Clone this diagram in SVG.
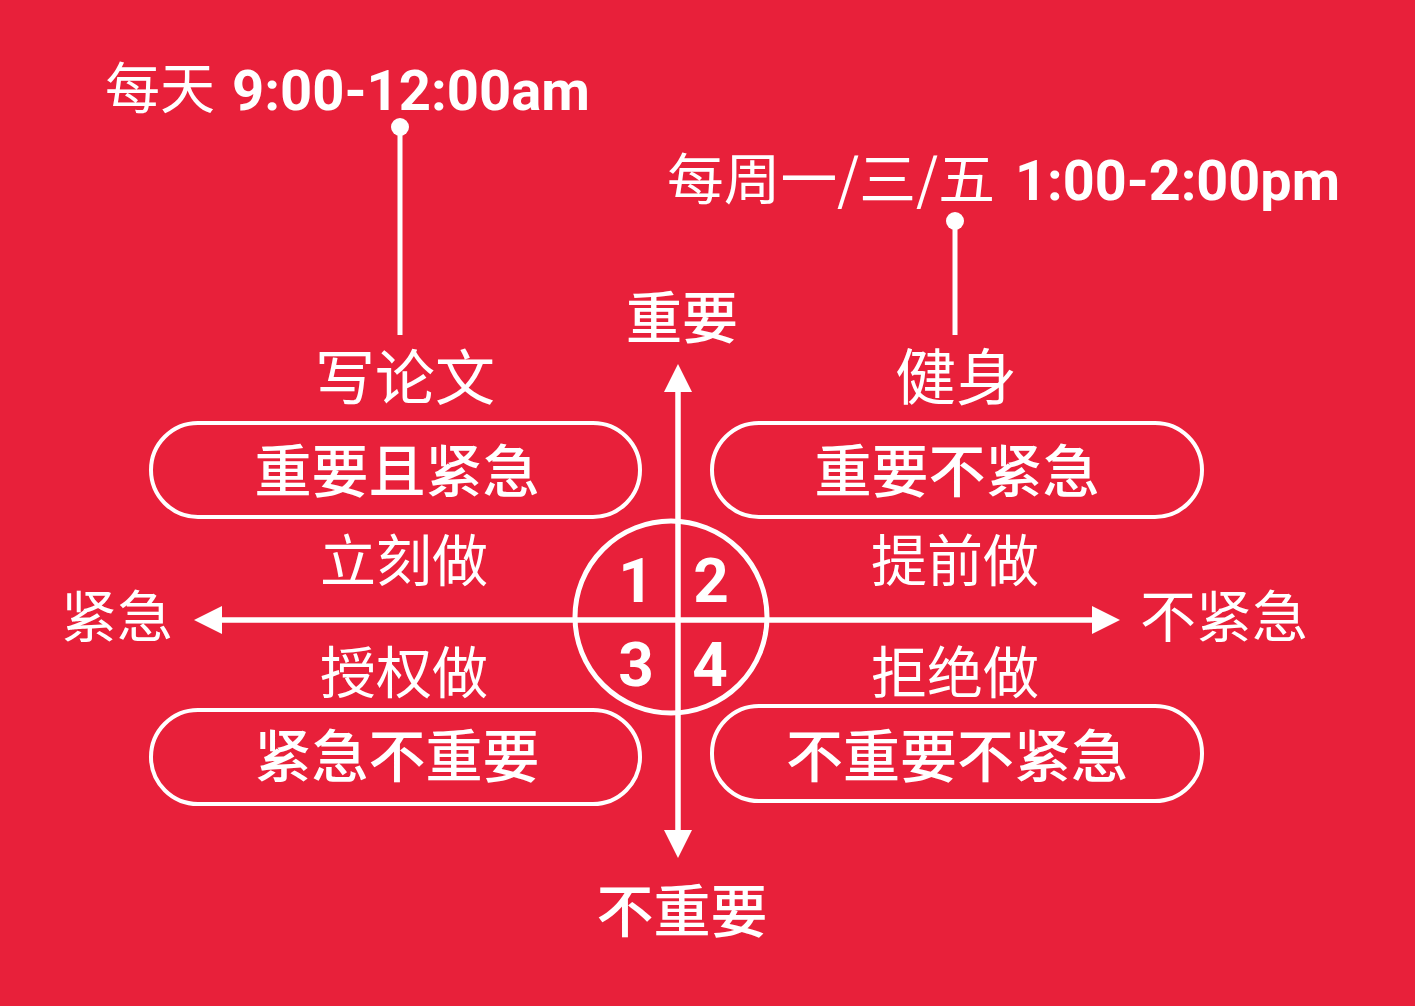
<svg xmlns="http://www.w3.org/2000/svg" width="1415" height="1006" viewBox="0 0 1415 1006">
<defs>
<style>
.cjk{font-family:"Noto Sans CJK SC","Noto Sans",sans-serif;fill:#fff;text-anchor:middle}
.lab{font-weight:400}
.pill-t{font-size:57px;font-weight:500}
.axis{font-size:56px;font-weight:400}
.num{font-family:Roboto,"DejaVu Sans",sans-serif;font-weight:700;fill:#fff}
.pill{fill:none;stroke:#fff;stroke-width:4}
.ln{stroke:#fff;stroke-width:5;fill:none}
</style>
<marker id="ah" viewBox="0 0 10 10" refX="0" refY="5" markerWidth="5.6" markerHeight="5.6" orient="auto" markerUnits="strokeWidth">
<path d="M0,0 L10,5 L0,10 Z" fill="#fff"/>
</marker>
</defs>
<rect width="1415" height="1006" fill="#e8203a"/>

<g id="connectors">
<line class="ln" x1="678" y1="840" x2="678" y2="392" marker-end="url(#ah)"/>
<line class="ln" x1="678" y1="392" x2="678" y2="830" marker-end="url(#ah)"/>
<line class="ln" x1="1095" y1="620" x2="222" y2="620" marker-end="url(#ah)"/>
<line class="ln" x1="222" y1="620" x2="1092" y2="620" marker-end="url(#ah)"/>
<line class="ln" x1="400" y1="127" x2="400" y2="335"/>
<circle cx="400" cy="127" r="9" fill="#fff"/>
<line class="ln" x1="955" y1="221" x2="955" y2="335"/>
<circle cx="955" cy="221" r="9" fill="#fff"/>
</g>

<g id="center-circle">
<circle cx="671" cy="617" r="96" class="ln"/>
<text class="num" x="636" y="602" font-size="62" text-anchor="middle">1</text>
<text class="num" x="711" y="602" font-size="62" text-anchor="middle">2</text>
<text class="num" x="636" y="686" font-size="62" text-anchor="middle">3</text>
<text class="num" x="710" y="686" font-size="62" text-anchor="middle">4</text>
</g>

<g id="time-1">
<text class="cjk" x="105" y="108" font-size="55" style="text-anchor:start">每天</text>
<text class="num" x="232" y="110" font-size="56" textLength="358" lengthAdjust="spacingAndGlyphs">9:00-12:00am</text>
</g>
<g id="time-2">
<text class="cjk" x="667" y="199" font-size="55" style="text-anchor:start" textLength="328" lengthAdjust="spacingAndGlyphs">每周一/三/五</text>
<text class="num" x="1015" y="200" font-size="56" textLength="325" lengthAdjust="spacingAndGlyphs">1:00-2:00pm</text>
</g>

<g id="axis-important"><text class="cjk axis" x="682" y="338" style="font-weight:500">重要</text></g>
<g id="axis-not-important"><text class="cjk axis" x="682" y="932" style="font-weight:500;font-size:57px">不重要</text></g>
<g id="axis-urgent"><text class="cjk axis" x="117" y="637">紧急</text></g>
<g id="axis-not-urgent"><text class="cjk axis" x="1224" y="637">不紧急</text></g>

<g id="q1">
<text class="cjk lab" x="405" y="400" font-size="60">写论文</text>
<rect class="pill" x="151" y="423" width="489" height="94" rx="47"/>
<text class="cjk pill-t" x="397" y="492">重要且紧急</text>
<text class="cjk lab" x="404" y="581" font-size="56">立刻做</text>
</g>
<g id="q2">
<text class="cjk lab" x="956" y="400" font-size="61">健身</text>
<rect class="pill" x="712" y="423" width="490" height="94" rx="47"/>
<text class="cjk pill-t" x="957" y="492">重要不紧急</text>
<text class="cjk lab" x="955" y="581" font-size="56">提前做</text>
</g>
<g id="q3">
<text class="cjk lab" x="404" y="693" font-size="56">授权做</text>
<rect class="pill" x="151" y="710" width="489" height="94" rx="47"/>
<text class="cjk pill-t" x="397" y="777">紧急不重要</text>
</g>
<g id="q4">
<text class="cjk lab" x="955" y="693" font-size="56">拒绝做</text>
<rect class="pill" x="712" y="706" width="490" height="95" rx="47"/>
<text class="cjk pill-t" x="957" y="777">不重要不紧急</text>
</g>
</svg>
